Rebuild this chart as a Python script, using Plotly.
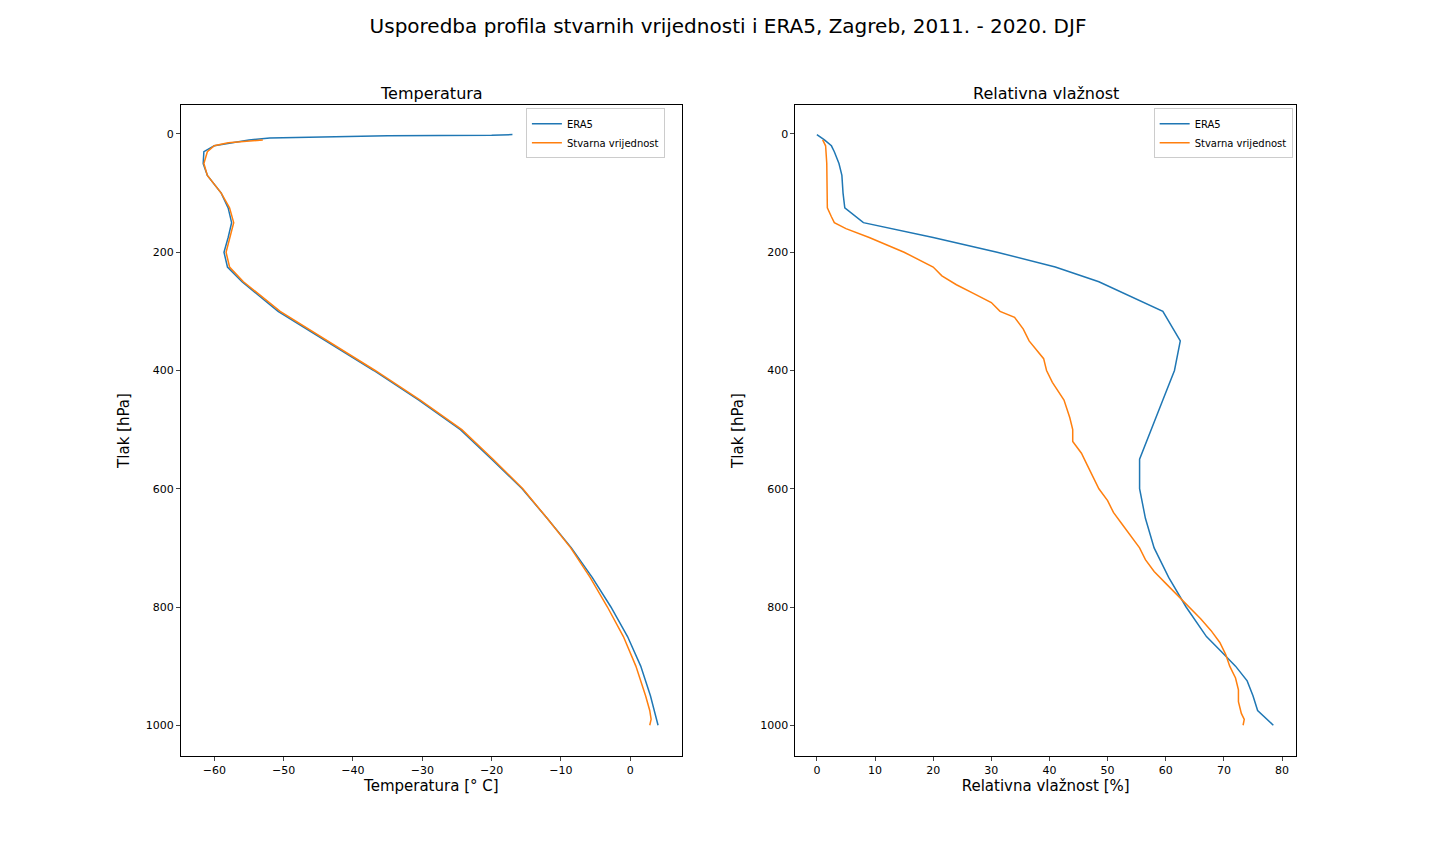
import plotly.graph_objects as go
from plotly.subplots import make_subplots

p_era_t = [1,2,3,5,7,10,20,30,50,70,100,125,150,175,200,225,250,300,350,400,450,500,550,600,650,700,750,800,850,900,950,1000]
t_era = [-17,-20,-35,-47,-52,-55,-60,-61.5,-61.6,-61,-59,-58,-57.5,-58,-58.6,-58.1,-56,-50.8,-44,-37,-30.5,-24.5,-20,-15.6,-12,-8.5,-5.5,-2.8,-0.4,1.5,2.9,4.0]
p_obs_t = [10,15,20,30,50,70,100,125,150,175,200,225,250,300,350,400,450,500,550,600,650,700,750,800,850,900,950,975,990,1000]
t_obs = [-53,-58,-60,-61,-61.5,-61,-59,-57.8,-57.2,-57.8,-58.3,-57.8,-55.8,-50.5,-43.7,-36.8,-30.3,-24.3,-19.8,-15.5,-12,-8.6,-5.8,-3.3,-1,0.8,2.2,2.8,3.0,2.8]

p_era_rh = [1,3,7,10,20,30,50,70,100,125,150,175,200,225,250,300,350,400,450,500,550,600,650,700,750,800,850,875,900,925,950,975,1000]
rh_era = [0,0.3,1,1.3,2.5,3,3.8,4.3,4.5,4.8,8,20,31,41,48.5,59.5,62.5,61.5,59.5,57.5,55.5,55.5,56.5,58,60.5,63.5,67,69.5,72,74,75,75.8,78.5]
p_obs_rh = [10,20,50,100,125,140,150,160,175,200,225,240,255,270,285,300,310,330,350,380,400,420,450,480,500,520,540,560,580,600,620,640,660,680,700,720,740,760,780,800,820,840,860,880,900,920,940,960,980,990,1000]
rh_obs = [1,1.5,1.7,1.8,1.8,2.5,3,5,9,15,20,21.5,24,27,30,31.5,34,35.5,36.5,39,39.5,40.5,42.5,43.5,44,44,45.5,46.5,47.5,48.5,50,51,52.5,54,55.5,56.5,58,60,62,64,66,67.8,69.3,70.3,71,72,72.5,72.5,73,73.5,73.3]

blue = "#1f77b4"; orange = "#ff7f0e"
fig = make_subplots(rows=1, cols=2, horizontal_spacing=0.102,
                    subplot_titles=("Temperatura", "Relativna vlažnost"))
fig.add_trace(go.Scatter(x=t_era, y=p_era_t, mode="lines", name="ERA5", line=dict(color=blue, width=1.5), legend="legend"), 1, 1)
fig.add_trace(go.Scatter(x=t_obs, y=p_obs_t, mode="lines", name="Stvarna vrijednost", line=dict(color=orange, width=1.5), legend="legend"), 1, 1)
fig.add_trace(go.Scatter(x=rh_era, y=p_era_rh, mode="lines", name="ERA5", line=dict(color=blue, width=1.5), legend="legend2"), 1, 2)
fig.add_trace(go.Scatter(x=rh_obs, y=p_obs_rh, mode="lines", name="Stvarna vrijednost", line=dict(color=orange, width=1.5), legend="legend2"), 1, 2)

ax = dict(showgrid=False, zeroline=False, showline=True, linecolor="black", mirror=True,
          ticks="outside", ticklen=4, tickfont=dict(size=11, color="black"))
fig.update_xaxes(**ax)
fig.update_yaxes(**ax)
fig.update_xaxes(range=[-64.8, 7.4], dtick=10, title=dict(text="Temperatura [° C]", font=dict(size=15), standoff=4), row=1, col=1)
fig.update_xaxes(range=[-3.7, 82.4], dtick=10, title=dict(text="Relativna vlažnost [%]", font=dict(size=15), standoff=4), row=1, col=2)
fig.update_yaxes(range=[1052, -49], dtick=200, title=dict(text="Tlak [hPa]", font=dict(size=15), standoff=12))
fig.update_annotations(font=dict(size=16, color="black"))
leg = dict(xanchor="right", yanchor="top", bgcolor="white", bordercolor="#cccccc", borderwidth=1, font=dict(size=10))
fig.update_layout(
    width=1440, height=864, plot_bgcolor="white", paper_bgcolor="white",
    font=dict(family="DejaVu Sans", color="black"),
    title=dict(text="Usporedba profila stvarnih vrijednosti i ERA5, Zagreb, 2011. - 2020. DJF", x=0.5, y=0.987, font=dict(size=20)),
    margin=dict(l=173, r=152, t=97, b=116),
    legend=dict(x=0.434, y=0.995, **leg),
    legend2=dict(x=0.997, y=0.995, **leg),
)
fig.write_html("out.html")
